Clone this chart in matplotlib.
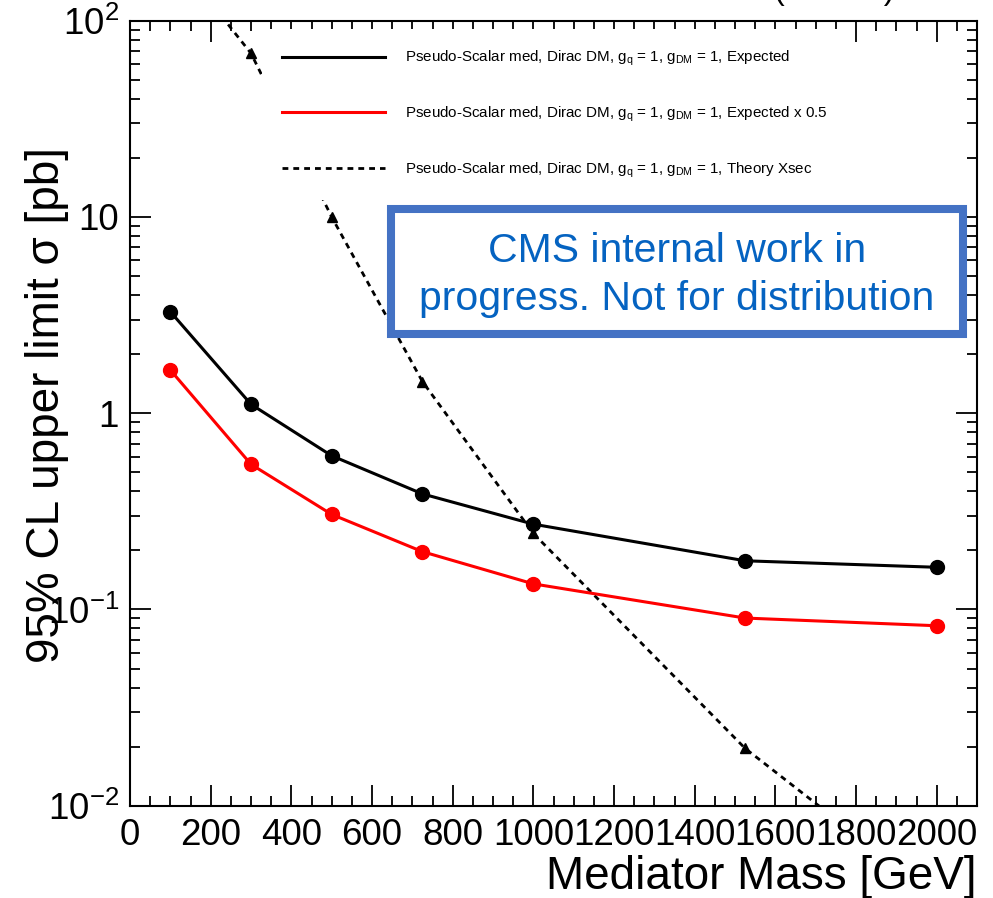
import matplotlib
matplotlib.use('Agg')
import matplotlib.pyplot as plt
from matplotlib.ticker import FixedLocator, MultipleLocator, NullFormatter, FixedFormatter
from matplotlib.patches import Rectangle
from matplotlib.lines import Line2D
from matplotlib import font_manager

# ---------------- data ----------------
mass = [100, 300, 500, 725, 1000, 1525, 2000]
expected = [3.29, 1.11, 0.607, 0.388, 0.272, 0.177, 0.164]
expected_half = [1.66, 0.549, 0.305, 0.197, 0.135, 0.0904, 0.0826]
theory = [225, 68.2, 10.0, 1.45, 0.244, 0.0196, 0.0034]

x_ticks = [0, 200, 400, 600, 800, 1000, 1200, 1400, 1600, 1800, 2000]
x_tick_labels = [str(v) for v in x_ticks]
y_ticks = [1e-2, 1e-1, 1, 10, 100]
y_tick_labels = ['10$^{-2}$', '10$^{-1}$', '1', '10', '10$^{2}$']

leg_labels = [
    'Pseudo-Scalar med, Dirac DM, g$_{\\rm q}$ = 1, g$_{\\rm DM}$ = 1, Expected',
    'Pseudo-Scalar med, Dirac DM, g$_{\\rm q}$ = 1, g$_{\\rm DM}$ = 1, Expected x 0.5',
    'Pseudo-Scalar med, Dirac DM, g$_{\\rm q}$ = 1, g$_{\\rm DM}$ = 1, Theory Xsec',
]

# ---------------- style ----------------
plt.rcParams['font.family'] = ['Liberation Sans', 'DejaVu Sans']
plt.rcParams['mathtext.fontset'] = 'custom'
plt.rcParams['mathtext.rm'] = 'Liberation Sans'
plt.rcParams['mathtext.it'] = 'Liberation Sans:italic'
plt.rcParams['mathtext.bf'] = 'Liberation Sans:bold'

avail = {f.name for f in font_manager.fontManager.ttflist}
if 'Liberation Sans Narrow' in avail:
    leg_family = ['Liberation Sans Narrow', 'Liberation Sans']
    leg_size = 12.5
else:
    leg_family = ['Liberation Sans', 'DejaVu Sans']
    leg_size = 10.9

W, H = 993, 898
fig = plt.figure(figsize=(W / 100, H / 100), dpi=100)
L, R, T, B = 130, 977, 20.7, 805.7
ax = fig.add_axes([L / W, 1 - B / H, (R - L) / W, (B - T) / H])

ax.set_yscale('log')
ax.set_xlim(0, 2100)
ax.set_ylim(1e-2, 1e2)

ax.plot(mass, theory, color='black', lw=2.0, ls=(0, (2.1, 1.8)),
        marker='^', markersize=7.5, zorder=2, clip_on=True)
ax.plot(mass, expected, color='black', lw=2.2, marker='o', markersize=10, zorder=3)
ax.plot(mass, expected_half, color='#ff0000', lw=2.2, marker='o', markersize=10, zorder=3)

# ticks
ax.xaxis.set_major_locator(FixedLocator(x_ticks))
ax.xaxis.set_major_formatter(FixedFormatter(x_tick_labels))
ax.xaxis.set_minor_locator(MultipleLocator(50))
ax.yaxis.set_major_locator(FixedLocator(y_ticks))
ax.yaxis.set_major_formatter(FixedFormatter(y_tick_labels))
ax.yaxis.set_minor_locator(matplotlib.ticker.LogLocator(base=10, subs=range(2, 10), numticks=20))
ax.yaxis.set_minor_formatter(NullFormatter())

ax.tick_params(which='both', direction='in', top=True, right=True, width=1.3, color='black')
ax.tick_params(which='major', length=15)
ax.tick_params(which='minor', length=7.5)
ax.tick_params(axis='x', which='major', labelsize=26.5, pad=9)
ax.tick_params(axis='y', which='major', labelsize=26.5, pad=8)
for s in ax.spines.values():
    s.set_linewidth(1.5)

# legend
handles = [
    Line2D([], [], color='black', lw=2.2),
    Line2D([], [], color='#ff0000', lw=2.2),
    Line2D([], [], color='black', lw=2.0, ls=(0, (2.1, 1.8))),
]
fpx = leg_size * 100 / 72
leg = ax.legend(handles, leg_labels, loc='lower left',
                bbox_to_anchor=(262 / W, 1 - 200 / H), bbox_transform=fig.transFigure,
                borderaxespad=0, borderpad=20 / fpx, handlelength=103 / fpx,
                handletextpad=20 / fpx, labelspacing=(55.5 - 1.25 * fpx) / fpx,
                frameon=True, fancybox=False, framealpha=1, facecolor='white',
                edgecolor='none', prop={'family': leg_family, 'size': leg_size})
leg.set_zorder(5)

# axis titles
fig.text(977 / W, 1 - 889 / H, 'Mediator Mass [GeV]', ha='right', va='baseline', fontsize=33)
fig.text(47 / W, 1 - 405 / H, '95% CL upper limit σ [pb]', rotation=90,
         ha='center', va='center', fontsize=33)

# clipped header text at the very top
fig.text(895 / W, 1 + 1 / H, '(13 TeV)', ha='right', va='baseline', fontsize=23)

# CMS internal box
bx0, bx1, by0, by1 = 391, 963, 209, 334
fig.add_artist(Rectangle((bx0 / W, 1 - by1 / H), (bx1 - bx0) / W, (by1 - by0) / H,
                         transform=fig.transFigure, facecolor='white',
                         edgecolor='#4472C4', linewidth=5.8, zorder=6))
fig.text(677 / W, 1 - 262 / H, 'CMS internal work in', ha='center', va='baseline',
         fontsize=29.5, color='#0563C1', zorder=7)
fig.text(677 / W, 1 - 310 / H, 'progress. Not for distribution', ha='center', va='baseline',
         fontsize=29.5, color='#0563C1', zorder=7)

fig.savefig('out.png', dpi=100)
